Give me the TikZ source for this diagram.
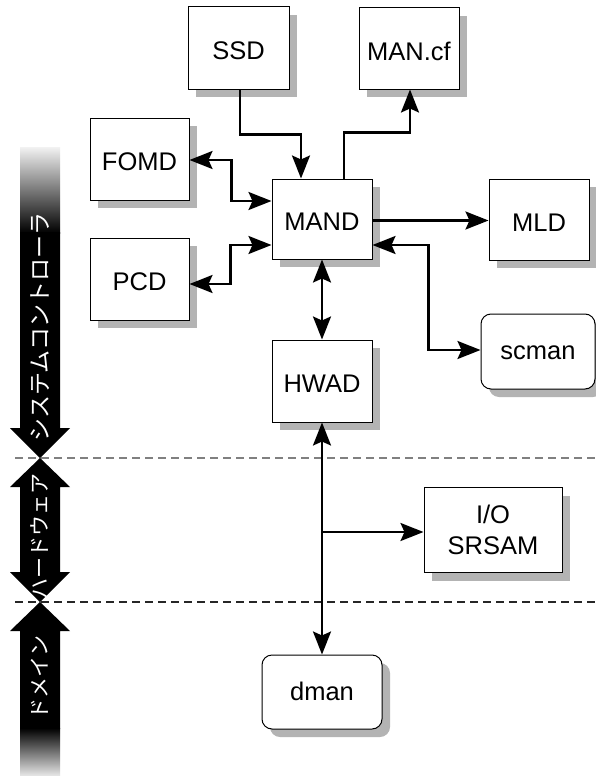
\documentclass[tikz,border=0pt]{standalone}
\usepackage{fontspec}
\setmainfont{Liberation Sans}
\newfontfamily\jpfont{Noto Sans CJK JP}
\usetikzlibrary{arrows.meta,shadows,calc}
\definecolor{shadowgray}{RGB}{179,179,179}
\definecolor{fadegray}{RGB}{242,242,242}
\begin{document}
\begin{tikzpicture}[x=1pt,y=-1pt,
  box/.style={draw=black,line width=1pt,fill=white,
    drop shadow={shadow xshift=8pt,shadow yshift=-8pt,fill=shadowgray,opacity=1},
    font=\fontsize{25.5}{31}\selectfont,inner sep=0pt,align=center,
    text height=23pt,text depth=0pt,minimum width=100pt,minimum height=82pt},
  rbox/.style={box,rounded corners=10pt,text height=16pt},
  conn/.style={line width=2.4pt,-{Stealth[length=23pt,width=18pt,inset=4pt]}},
  bconn/.style={line width=2.4pt,{Stealth[length=23pt,width=18pt,inset=4pt]}-{Stealth[length=23pt,width=18pt,inset=4pt]}},
  sepline/.style={line width=1.2pt,dash pattern=on 8pt off 5pt},
  jp/.style={text=white,rotate=90,inner sep=0pt,font=\jpfont\fontsize{21}{21}\selectfont}
]
\useasboundingbox (0,0) rectangle (596,776);

% separators
\draw[sepline,gray] (15,458) -- (596,458);
\draw[sepline,black!85] (15,602) -- (596,602);

% lane arrows
\shade[top color=fadegray,bottom color=black] (20,147) rectangle (60,233);
\fill[black] (20,232) -- (60,232) -- (60,428) -- (70,428) -- (40,458) -- (10,428) -- (20,428) -- cycle;
\fill[black] (40,458) -- (70,487) -- (60,487) -- (60,572) -- (70,572) -- (40,602) -- (10,572) -- (20,572) -- (20,487) -- (10,487) -- cycle;
\fill[black] (40,602) -- (70,631) -- (60,631) -- (60,729) -- (20,729) -- (20,631) -- (10,631) -- cycle;
\shade[top color=black,bottom color=fadegray] (20,728) rectangle (60,778);

\node[jp,font=\jpfont\fontsize{23}{23}\selectfont] (sysl) at (40,327) {システムコントローラ};
\node[jp] (hwl) at (40,536) {ハードウェア};
\node[jp] (doml) at (40,677) {ドメイン};

% boxes
\node[box,minimum width=101pt] (SSD) at (238.5,48) {SSD};
\node[box,minimum height=81pt] (MANcf) at (409,48.5) {MAN.cf};
\node[box,minimum width=99pt] (FOMD) at (139.5,159) {FOMD};
\node[box,minimum height=80pt] (MAND) at (322,219) {MAND};
\node[box,minimum height=81pt] (MLD) at (539,219.5) {MLD};
\node[box,minimum width=99pt] (PCD) at (139.5,279) {PCD};
\node[box] (HWAD) at (322,381) {HWAD};
\node[rbox,minimum width=114pt,minimum height=75pt] (scman) at (538,351.5) {scman};
\node[box,minimum width=138pt,minimum height=85pt,text height=,text depth=] (IO) at (493,530) {I/O\\SRSAM};
\node[rbox,minimum width=120pt,minimum height=74pt] (dman) at (322,692) {dman};

% connectors
\draw[conn] ([xshift=1.5pt]SSD.south) -- ++(0,45) -| ([xshift=-21pt]MAND.north);
\draw[conn] ([xshift=22pt]MAND.north) -- ++(0,-46) -| ([xshift=1pt]MANcf.south);
\draw[bconn] ([yshift=-1pt]FOMD.east) -- ++(42,0) |- ([yshift=18pt]MAND.west);
\draw[bconn] ([yshift=-26pt]MAND.west) -- ++(-41,0) |- ([yshift=-5pt]PCD.east);
\draw[conn] ([yshift=-1.5pt]MAND.east) -- ([yshift=-1pt]MLD.west);
\draw[bconn] ([yshift=-26pt]MAND.east) -- ++(56,0) |- ([yshift=1.5pt]scman.west);
\draw[bconn] (MAND.south) -- (HWAD.north);
\draw[bconn] (HWAD.south) -- (dman.north);
\coordinate (br) at (322,532);
\draw[conn] (br) -- (IO.west |- br);
\end{tikzpicture}
\end{document}
